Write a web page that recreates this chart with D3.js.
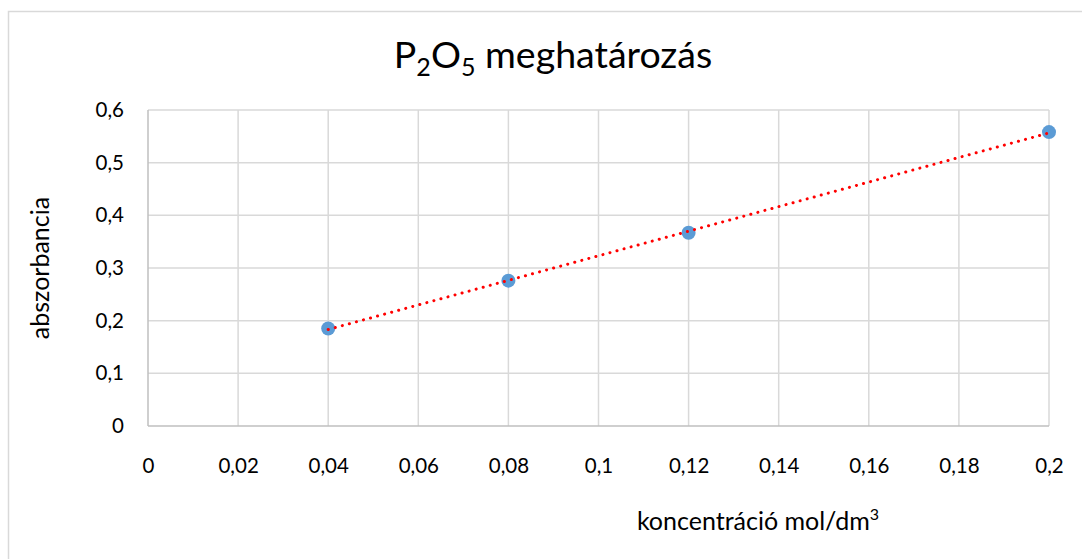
<!DOCTYPE html>
<html>
<head>
<meta charset="utf-8">
<script src="https://cdn.jsdelivr.net/npm/d3@7"></script>
<style>
html,body{margin:0;padding:0;background:#fff;}
svg{display:block;}
text{font-family:Lato,"Open Sans",sans-serif;fill:#000;}
</style>
</head>
<body>
<svg id="chart" width="1082" height="559"></svg>
<script>
const concentrations = [0.04, 0.08, 0.12, 0.2];
const absorbances = [0.185, 0.276, 0.367, 0.558];
const xTicks = [0, 0.02, 0.04, 0.06, 0.08, 0.1, 0.12, 0.14, 0.16, 0.18, 0.2];
const yTicks = [0, 0.1, 0.2, 0.3, 0.4, 0.5, 0.6];
const titleParts = ["P", "2", "O", "5", " meghatározás"];
const yTitle = "abszorbancia";
const xTitle = "koncentráció mol/dm";

const svg = d3.select("#chart");
const W = 1082, H = 559;
const m = {left:148, right:1049, top:110, bottom:426};
const FF = "Lato,'Open Sans',sans-serif";

svg.append("rect").attr("x",8.5).attr("y",11.5).attr("width",W+10).attr("height",H+10)
  .attr("fill","#fff").attr("stroke","#d9d9d9").attr("stroke-width",1.5);

const x = d3.scaleLinear().domain([0,0.2]).range([m.left,m.right]);
const y = d3.scaleLinear().domain([0,0.6]).range([m.bottom,m.top]);
const fmt = d => d3.format("~g")(d).replace(".", ",");

// gridlines
const g = svg.append("g");
g.selectAll(".vg").data(xTicks.filter(d=>d>0)).join("line")
  .attr("x1",d=>x(d)).attr("x2",d=>x(d)).attr("y1",m.top).attr("y2",m.bottom)
  .attr("stroke","#d9d9d9").attr("stroke-width",1.5);
g.selectAll(".hg").data(yTicks.filter(d=>d>0)).join("line")
  .attr("x1",m.left).attr("x2",m.right).attr("y1",d=>y(d)).attr("y2",d=>y(d))
  .attr("stroke","#d9d9d9").attr("stroke-width",1.5);
// axis lines
g.append("line").attr("x1",m.left).attr("x2",m.left).attr("y1",m.top).attr("y2",m.bottom)
  .attr("stroke","#bfbfbf").attr("stroke-width",1.5);
g.append("line").attr("x1",m.left).attr("x2",m.right).attr("y1",m.bottom).attr("y2",m.bottom)
  .attr("stroke","#bfbfbf").attr("stroke-width",1.5);

// axes labels via d3 axes
const xAxis = d3.axisBottom(x).tickValues(xTicks).tickFormat(fmt).tickSize(0).tickPadding(32);
const xa = svg.append("g").attr("transform",`translate(0,${m.bottom})`).call(xAxis);
xa.select(".domain").remove();
xa.selectAll("text").attr("font-size",20.5).attr("font-family",FF).attr("fill","#000");

const yAxis = d3.axisLeft(y).tickValues(yTicks).tickFormat(fmt).tickSize(0).tickPadding(24);
const ya = svg.append("g").attr("transform",`translate(${m.left},0)`).call(yAxis);
ya.select(".domain").remove();
ya.selectAll("text").attr("font-size",20.5).attr("font-family",FF).attr("fill","#000");

// trendline (linear least squares)
const n = concentrations.length;
const mx = d3.mean(concentrations), my = d3.mean(absorbances);
let sxy=0, sxx=0;
for(let i=0;i<n;i++){sxy+=(concentrations[i]-mx)*(absorbances[i]-my);sxx+=(concentrations[i]-mx)**2;}
const slope = sxy/sxx, icpt = my - slope*mx;
const x0 = d3.min(concentrations), x1 = d3.max(concentrations);

// markers
svg.selectAll(".pt").data(concentrations).join("circle")
  .attr("cx",(d)=>x(d)).attr("cy",(d,i)=>y(absorbances[i])).attr("r",7)
  .attr("fill","#5b9bd5");

svg.append("line").attr("x1",x(x0)).attr("y1",y(slope*x0+icpt))
  .attr("x2",x(x1)).attr("y2",y(slope*x1+icpt))
  .attr("stroke","#ff0000").attr("stroke-width",3).attr("stroke-linecap","round")
  .attr("stroke-dasharray","0.1,7.2");

// title
const t = svg.append("text").attr("x",553).attr("y",68).attr("text-anchor","middle").attr("font-size",37.5);
t.append("tspan").text(titleParts[0]);
t.append("tspan").text(titleParts[1]).attr("font-size",25).attr("dy",8);
t.append("tspan").text(titleParts[2]).attr("dy",-8);
t.append("tspan").text(titleParts[3]).attr("font-size",25).attr("dy",8);
t.append("tspan").text(titleParts[4]).attr("dy",-8);

// y title
svg.append("text").attr("transform","translate(49,268) rotate(-90)").attr("text-anchor","middle")
  .attr("font-size",25).text(yTitle);
// x title
const xt = svg.append("text").attr("x",758).attr("y",530).attr("text-anchor","middle").attr("font-size",25);
xt.append("tspan").text(xTitle);
xt.append("tspan").text("3").attr("font-size",16).attr("dy",-10);
</script>
</body>
</html>
